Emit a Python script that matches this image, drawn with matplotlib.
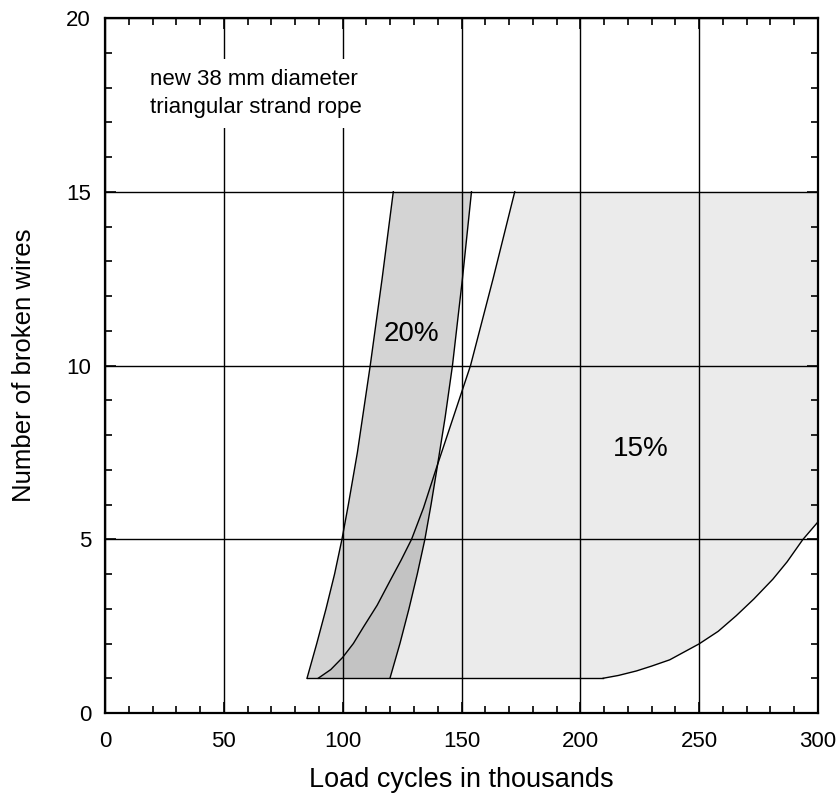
import numpy as np
import matplotlib.pyplot as plt
from matplotlib.ticker import MultipleLocator

plt.rcParams['font.family'] = ['Liberation Sans', 'DejaVu Sans']

# ==============================
# DATA
# ==============================

# 20% band: left and right boundary, x (thousand cycles) at given wire count
band20_left_y = [1, 2, 3, 4, 5, 6, 7.5, 10, 12.5, 15]
band20_left_x = [85, 89.1, 93.0, 96.6, 99.7, 102.4, 106.2, 111.6, 116.6, 121.3]

band20_right_y = [1, 2, 3, 4, 5, 6, 7, 8.5, 10, 12.5, 15]
band20_right_x = [119.9, 124.1, 127.9, 131.4, 134.6, 137.2, 139.6, 143.1,
                  146.2, 150.4, 154.2]

# 15% region: left boundary curve (x, y)
band15_left_x = [89.7, 95, 100, 104.5, 108.7, 114.5, 119.9, 124.6, 129,
                 134, 139.2, 146.5, 153.8, 163.3, 172.4]
band15_left_y = [1, 1.25, 1.6, 2.0, 2.47, 3.1, 3.8, 4.4, 5,
                 5.9, 7.0, 8.5, 10, 12.5, 15]

# 15% region: lower-right boundary curve (x, y)
band15_low_x = [209.6, 216, 223.6, 230, 237.6, 250, 258, 265.6, 273, 281,
                287, 293.6, 300]
band15_low_y = [1, 1.08, 1.21, 1.35, 1.53, 1.99, 2.35, 2.8, 3.28, 3.85,
                4.35, 4.99, 5.5]

top_y = 15
x_max = 300

# ==============================
# PLOT
# ==============================

fig = plt.figure(figsize=(8.38, 7.96), dpi=100)
ax = fig.add_axes([105 / 838, 83 / 796, 713 / 838, 695 / 796])

# 20% band polygon
p20_x = band20_left_x + band20_right_x[::-1]
p20_y = band20_left_y + band20_right_y[::-1]

# 15% region polygon
p15_x = band15_left_x + [x_max] + band15_low_x[::-1]
p15_y = band15_left_y + [top_y] + band15_low_y[::-1]

ax.fill(p15_x, p15_y, color="black", alpha=0.08, lw=0, zorder=1)
ax.fill(p20_x, p20_y, color="black", alpha=0.17, lw=0, zorder=1)

line_kw = dict(color="black", lw=1.0, zorder=3)
ax.plot(band20_left_x, band20_left_y, **line_kw)
ax.plot(band20_right_x, band20_right_y, **line_kw)
ax.plot(band15_left_x, band15_left_y, **line_kw)
ax.plot(band15_low_x, band15_low_y, **line_kw)
ax.plot([band20_left_x[0], band15_low_x[0]], [1, 1], **line_kw)

ax.set_xlim(0, 300)
ax.set_ylim(0, 20)
ax.xaxis.set_major_locator(MultipleLocator(50))
ax.xaxis.set_minor_locator(MultipleLocator(10))
ax.yaxis.set_major_locator(MultipleLocator(5))
ax.yaxis.set_minor_locator(MultipleLocator(1))

ax.grid(True, which="major", color="black", lw=1.0, zorder=2)
ax.set_axisbelow(False)

ax.tick_params(which="both", direction="in", top=True, right=True,
               labelsize=16, width=1.2)
ax.tick_params(which="major", length=8)
ax.tick_params(axis="x", which="major", pad=13)
ax.tick_params(axis="y", which="major", pad=10)
ax.tick_params(which="minor", length=5)
for s in ax.spines.values():
    s.set_linewidth(1.6)

ax.set_xlabel("Load cycles in thousands", fontsize=19.5, labelpad=11)
ax.set_ylabel("Number of broken wires", fontsize=18.5, labelpad=22)

ax.text(18.9, 17.27, "new 38 mm diameter\ntriangular strand rope",
        fontsize=16, ha="left", va="baseline", linespacing=1.45, zorder=4,
        bbox=dict(facecolor="white", edgecolor="none", pad=7))
ax.text(129, 10.9, "20%", fontsize=20, ha="center", va="center", zorder=4)
ax.text(225.5, 7.6, "15%", fontsize=20, ha="center", va="center", zorder=4)

plt.savefig("out.png", dpi=100)
